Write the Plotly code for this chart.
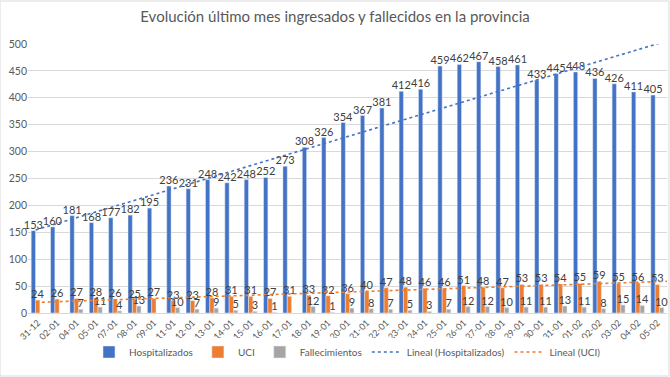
import numpy as np
import plotly.graph_objects as go

fechas = ["31-12", "02-01", "04-01", "05-01", "07-01", "08-01", "09-01", "11-01", "12-01",
          "13-01", "14-01", "15-01", "16-01", "17-01", "18-01", "19-01", "20-01", "21-01",
          "22-01", "23-01", "24-01", "25-01", "26-01", "27-01", "28-01", "29-01", "30-01",
          "31-01", "01-02", "02-02", "03-02", "04-02", "05-02"]
hospitalizados = [153, 160, 181, 168, 177, 182, 195, 236, 231, 248, 242, 248, 252, 273, 308,
                  326, 354, 367, 381, 412, 416, 459, 462, 467, 458, 461, 433, 445, 448, 436,
                  426, 411, 405]
uci = [24, 26, 27, 28, 26, 25, 27, 23, 23, 28, 31, 31, 27, 31, 33, 32, 36, 40, 47, 48, 46, 46,
       51, 48, 47, 53, 53, 54, 55, 59, 55, 56, 53]
fallecimientos = [None, None, 7, 11, 4, 13, None, 10, 7, 9, 5, 3, 1, None, 12, 1, 9, 8, 7, 5,
                  3, 7, 12, 12, 10, 11, 11, 13, 11, 8, 15, 14, 10]

BLUE, ORANGE, GREY = "#4472C4", "#ED7D31", "#A5A5A5"
TXT = "#404040"
FONT = "Lato"

idx = np.arange(len(fechas))
fig = go.Figure()

def bar(name, vals, color):
    txt = ["" if v is None else str(v) for v in vals]
    fig.add_trace(go.Bar(x=idx, y=vals, name=name, marker_color=color,
                         text=txt, textposition="outside", constraintext="none",
                         cliponaxis=False,
                         textfont=dict(size=11, color=TXT, family=FONT)))

bar("Hospitalizados", hospitalizados, BLUE)
bar("UCI", uci, ORANGE)
bar("Fallecimientos", fallecimientos, GREY)

# linear trendlines (least squares fit, as Excel's "Lineal")
xt = np.array([-0.1, len(fechas) - 0.5])
for name, vals, color in [("Lineal (Hospitalizados)", hospitalizados, BLUE),
                          ("Lineal (UCI)", uci, ORANGE)]:
    m, b = np.polyfit(idx, np.array(vals, dtype=float), 1)
    fig.add_trace(go.Scatter(x=xt, y=m * xt + b, mode="lines", name=name,
                             line=dict(color=color, width=1.6, dash="dot"),
                             cliponaxis=False))

fig.update_layout(
    width=670, height=377,
    paper_bgcolor="white", plot_bgcolor="white",
    margin=dict(l=28, r=3, t=44, b=64, autoexpand=False),
    font=dict(family=FONT, color="#595959", size=10),
    title=dict(text="Evolución último mes ingresados y fallecidos en la provincia",
               x=0.5, xanchor="center", y=0.955, yanchor="middle",
               font=dict(size=15, color="#595959", family=FONT)),
    barmode="group", bargap=0.33, bargroupgap=0.0,
    showlegend=True,
    legend=dict(orientation="h", x=0.5, xanchor="center", y=-0.145, yanchor="middle",
                font=dict(size=10, color="#595959", family=FONT),
                itemwidth=30, traceorder="normal"),
    xaxis=dict(tickmode="array", tickvals=idx, ticktext=fechas, tickangle=-45,
               range=[-0.5, len(fechas) - 0.5], showgrid=False, zeroline=False,
               showline=True, linecolor="#D9D9D9", ticks="",
               tickfont=dict(size=9, color="#595959")),
    yaxis=dict(range=[0, 500], dtick=50, showgrid=True, gridcolor="#D9D9D9",
               zeroline=False, ticks="", tickfont=dict(size=10.5, color="#595959")),
    shapes=[dict(type="rect", xref="paper", yref="paper",
                 x0=-28 / 639, x1=1 + 2 / 639, y0=-63 / 269, y1=1 + 43 / 269,
                 line=dict(color="#D9D9D9", width=1), fillcolor="rgba(0,0,0,0)",
                 layer="below")],
)

fig.write_html("out.html", config={"displayModeBar": False},
               post_script="document.body.style.margin='0';document.body.style.padding='0';")
